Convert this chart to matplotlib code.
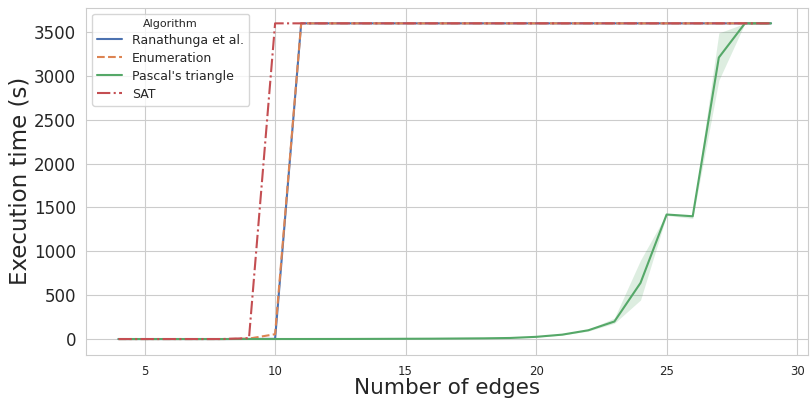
import numpy as np
import matplotlib
matplotlib.use("Agg")
import matplotlib.pyplot as plt
import seaborn as sns

edges = list(range(4, 30))

ranathunga = [0, 0, 0, 0, 0, 1, 2, 3600] + [3600] * 18
enumeration = [0, 0, 0, 0, 0, 5, 55, 3600] + [3600] * 18
sat = [0, 0, 0, 0, 0, 10, 3600, 3600] + [3600] * 18
pascal = [0, 0, 0, 0, 0, 0, 0.1, 0.3, 0.6, 1, 2, 3, 4, 6, 8, 12, 25, 50,
          100, 200, 640, 1420, 1400, 3210, 3600, 3600]
pascal_lo = [0, 0, 0, 0, 0, 0, 0.1, 0.3, 0.6, 1, 2, 3, 4, 6, 8, 11, 22, 45,
             90, 180, 445, 1410, 1375, 2950, 3600, 3600]
pascal_hi = [0, 0, 0, 0, 0, 0, 0.1, 0.3, 0.6, 1, 2, 3, 4, 6, 8, 13, 28, 55,
             110, 240, 900, 1430, 1410, 3490, 3600, 3600]

sns.set_style("whitegrid")
pal = sns.color_palette("deep")

fig, ax = plt.subplots(figsize=(8.1, 3.98), dpi=100)
ax.plot(edges, ranathunga, '-', color=pal[0], lw=1.5, label='Ranathunga et al.')
ax.plot(edges, enumeration, '--', color=pal[1], lw=1.5, label='Enumeration')
ax.plot(edges, pascal, '-', color=pal[2], lw=1.5, label="Pascal's triangle")
ax.fill_between(edges, pascal_lo, pascal_hi, color=pal[2], alpha=0.2, lw=0)
ax.plot(edges, sat, '-.', color=pal[3], lw=1.5, label='SAT')

ax.set_xlabel('Number of edges', fontsize=15.5, labelpad=0)
ax.set_ylabel('Execution time (s)', fontsize=16.5, labelpad=1.5)
ax.tick_params(axis='x', labelsize=8.5)
ax.tick_params(axis='y', labelsize=12)
ax.set_yticks(np.arange(0, 3501, 500))
ax.set_ylim(-180, 3780)
ax.set_xlim(2.75, 30.4)
ax.legend(title='Algorithm', loc='upper left', fontsize=9, title_fontsize=8,
          labelspacing=0.4)

fig.subplots_adjust(left=0.106, right=0.997, bottom=0.1085, top=0.981)
plt.savefig('out.png', dpi=100)
